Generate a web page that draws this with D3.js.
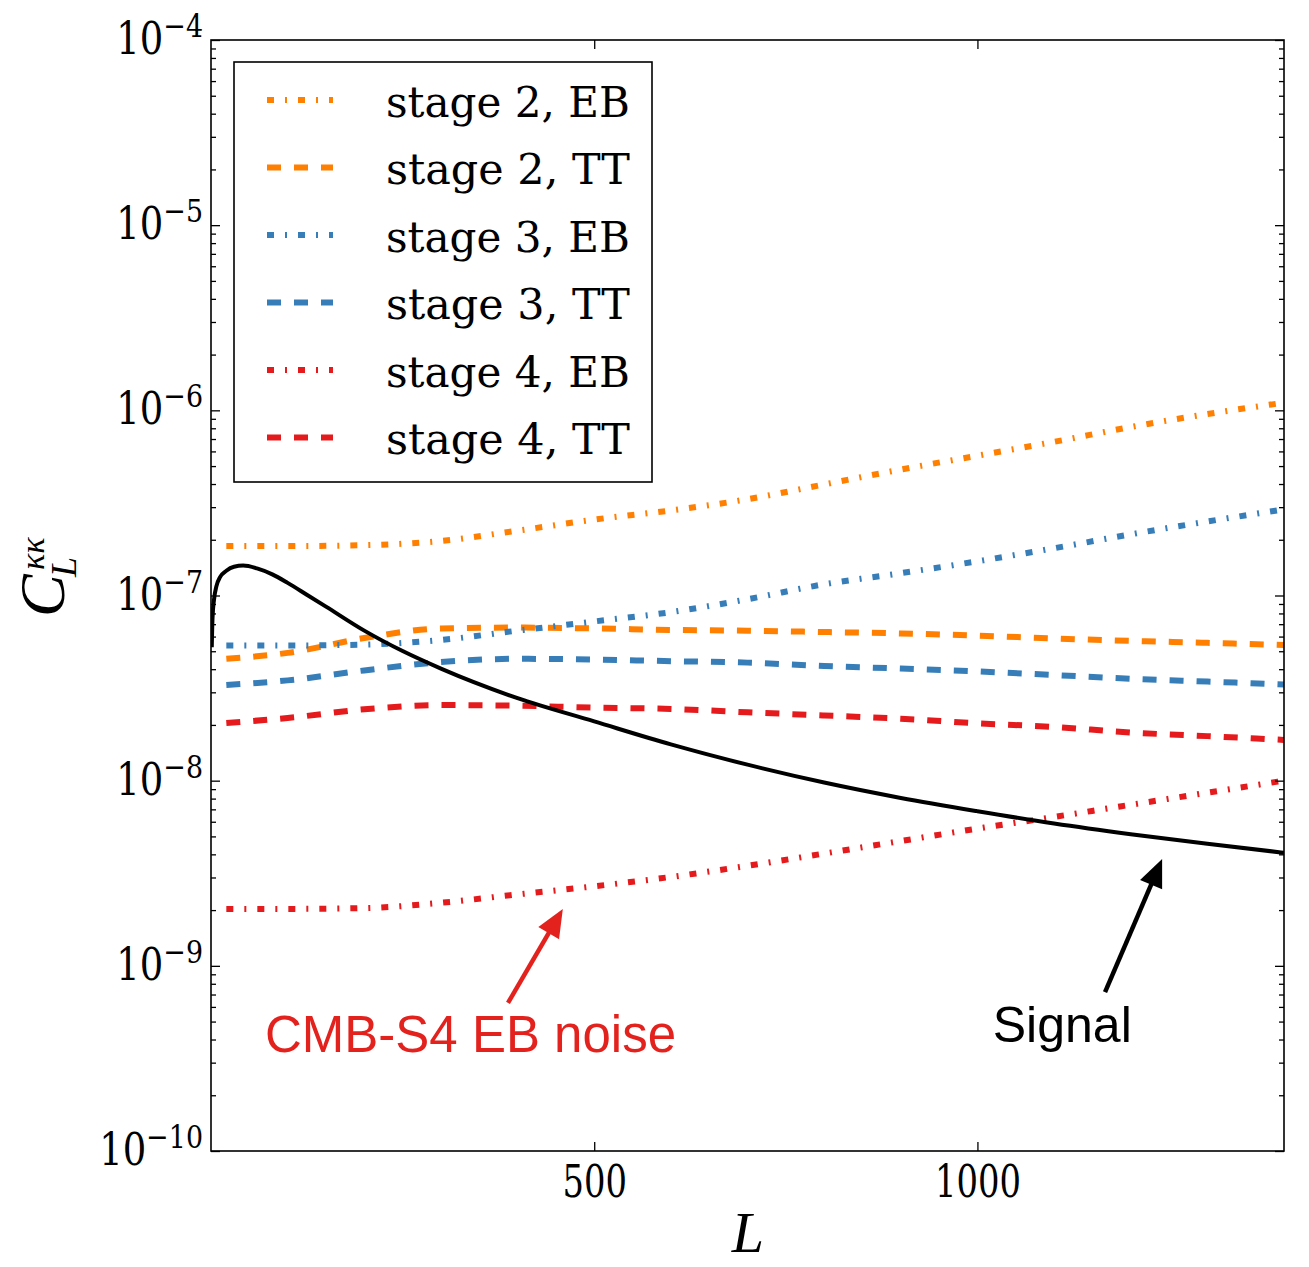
<!DOCTYPE html>
<html>
<head>
<meta charset="utf-8">
<script src="https://cdn.jsdelivr.net/npm/d3@7"></script>
<style>
  body { margin: 0; background: #fff; }
</style>
</head>
<body>
<svg width="1309" height="1267"></svg>
<script>
// ---- data ----
const noiseL = [20, 100, 200, 300, 400, 500, 600, 700, 800, 900, 1000, 1100, 1200, 1300, 1400];
const stage2EB = [1.85e-7, 1.85e-7, 1.87e-7, 1.97e-7, 2.24e-7, 2.57e-7, 2.88e-7, 3.31e-7, 3.98e-7, 4.79e-7, 5.69e-7, 6.76e-7, 8.13e-7, 9.55e-7, 1.10e-6];
const stage2TT = [4.55e-8, 4.90e-8, 5.89e-8, 6.64e-8, 6.71e-8, 6.64e-8, 6.52e-8, 6.46e-8, 6.35e-8, 6.24e-8, 6.07e-8, 5.86e-8, 5.69e-8, 5.55e-8, 5.40e-8];
const stage3EB = [5.37e-8, 5.37e-8, 5.43e-8, 5.75e-8, 6.46e-8, 7.24e-8, 8.13e-8, 9.55e-8, 1.15e-7, 1.32e-7, 1.53e-7, 1.80e-7, 2.14e-7, 2.51e-7, 2.92e-7];
const stage3TT = [3.29e-8, 3.48e-8, 3.94e-8, 4.37e-8, 4.55e-8, 4.51e-8, 4.42e-8, 4.34e-8, 4.16e-8, 4.03e-8, 3.89e-8, 3.72e-8, 3.55e-8, 3.43e-8, 3.31e-8];
const stage4EB = [2.03e-9, 2.03e-9, 2.05e-9, 2.19e-9, 2.43e-9, 2.69e-9, 3.02e-9, 3.47e-9, 4.04e-9, 4.72e-9, 5.51e-9, 6.37e-9, 7.41e-9, 8.61e-9, 1.0e-8];
const stage4TT = [2.05e-8, 2.18e-8, 2.43e-8, 2.56e-8, 2.54e-8, 2.48e-8, 2.44e-8, 2.34e-8, 2.25e-8, 2.16e-8, 2.04e-8, 1.95e-8, 1.82e-8, 1.74e-8, 1.66e-8];

const signalL = [1, 2, 4, 7, 12, 20, 30, 42, 60, 80, 100, 125, 150, 200, 250, 300, 400, 500, 600, 700, 800, 900, 1000, 1100, 1200, 1300, 1400];
const signal = [5.25e-8, 7.59e-8, 9.55e-8, 1.12e-7, 1.26e-7, 1.36e-7, 1.43e-7, 1.45e-7, 1.40e-7, 1.30e-7, 1.17e-7, 1.01e-7, 8.71e-8, 6.46e-8, 5.01e-8, 4.03e-8, 2.79e-8, 2.09e-8, 1.57e-8, 1.22e-8, 9.77e-9, 8.07e-9, 6.84e-9, 5.87e-9, 5.14e-9, 4.56e-9, 4.08e-9];

const legendLabels = ['stage 2, EB', 'stage 2, TT', 'stage 3, EB', 'stage 3, TT', 'stage 4, EB', 'stage 4, TT'];
const xTicks = [500, 1000];
const yDecades = [-10, -9, -8, -7, -6, -5, -4];

// ---- styles ----
const orange = '#ff7f00', blue = '#377eb8', red = '#e41a1c';
const dashDot = '7,11,2,11';
const dashed = '14,13';

const series = [
  { name: legendLabels[0], vals: stage2EB, color: orange, dash: dashDot },
  { name: legendLabels[1], vals: stage2TT, color: orange, dash: dashed },
  { name: legendLabels[2], vals: stage3EB, color: blue, dash: dashDot },
  { name: legendLabels[3], vals: stage3TT, color: blue, dash: dashed },
  { name: legendLabels[4], vals: stage4EB, color: red, dash: dashDot },
  { name: legendLabels[5], vals: stage4TT, color: red, dash: dashed }
];

const svg = d3.select('svg');
const pLeft = 211, pRight = 1284, pTop = 40, pBottom = 1151;
const serif = '"DejaVu Serif", "Liberation Serif", serif';
const serifIt = '"Liberation Serif", "DejaVu Serif", serif';
const sans = '"Liberation Sans", Arial, Helvetica, sans-serif';

const x = d3.scaleLinear().domain([0, 1400]).range([pLeft, pRight]);
const y = d3.scaleLog().domain([1e-10, 1e-4]).range([pBottom, pTop]);

svg.append('defs').append('clipPath').attr('id', 'plotclip')
  .append('rect').attr('x', pLeft).attr('y', pTop).attr('width', pRight - pLeft).attr('height', pBottom - pTop);

const line = d3.line()
  .x(d => x(d[0]))
  .y(d => y(d[1]))
  .curve(d3.curveMonotoneX);

const plot = svg.append('g').attr('clip-path', 'url(#plotclip)');

plot.selectAll('path.noise')
  .data(series)
  .enter().append('path')
    .attr('class', 'noise')
    .attr('d', s => line(noiseL.map((l, i) => [l, s.vals[i]])))
    .attr('fill', 'none')
    .attr('stroke', s => s.color)
    .attr('stroke-width', 6)
    .attr('stroke-dasharray', s => s.dash);

plot.append('path')
  .attr('d', line(signalL.map((l, i) => [l, signal[i]])))
  .attr('fill', 'none')
  .attr('stroke', '#000')
  .attr('stroke-width', 4);

// ---- ticks ----
const majorY = yDecades.map(k => Math.pow(10, k));
const minorY = [];
yDecades.slice(0, -1).forEach(k => {
  for (let m = 2; m <= 9; m++) minorY.push(m * Math.pow(10, k));
});

function tickAxis(axis, tx, ty) {
  const g = svg.append('g').attr('transform', `translate(${tx},${ty})`).call(axis);
  g.select('.domain').remove();
  g.selectAll('line').attr('stroke', '#000').attr('stroke-width', 1.3);
  return g;
}

tickAxis(d3.axisLeft(y).tickValues(majorY).tickSize(-9).tickFormat(''), pLeft, 0);
tickAxis(d3.axisLeft(y).tickValues(minorY).tickSize(-5).tickFormat(''), pLeft, 0);
tickAxis(d3.axisRight(y).tickValues(majorY).tickSize(-9).tickFormat(''), pRight, 0);
tickAxis(d3.axisRight(y).tickValues(minorY).tickSize(-5).tickFormat(''), pRight, 0);
tickAxis(d3.axisTop(x).tickValues(xTicks).tickSize(-9).tickFormat(''), 0, pTop);

const xAxis = tickAxis(d3.axisBottom(x).tickValues(xTicks).tickSize(-9).tickPadding(15).tickFormat(d3.format('d')), 0, pBottom);
xAxis.selectAll('text')
  .attr('font-family', serif)
  .attr('font-size', 44)
  .attr('fill', '#000')
  .attr('textLength', d => String(d).length * 21.5)
  .attr('lengthAdjust', 'spacingAndGlyphs');

// y tick labels: "10" with a raised exponent, squeezed horizontally
const yLab = svg.append('g').attr('font-family', serif);
yLab.selectAll('text')
  .data(yDecades)
  .enter().append('text')
    .attr('transform', k => `translate(203,${y(Math.pow(10, k)) + 14}) scale(0.84,1)`)
    .attr('text-anchor', 'end')
    .attr('font-size', 44)
    .each(function (k) {
      const t = d3.select(this);
      t.append('tspan').text('10');
      t.append('tspan').attr('dy', -17).attr('font-size', 32).text('\u2212' + Math.abs(k));
    });

// frame
svg.append('rect')
  .attr('x', pLeft).attr('y', pTop)
  .attr('width', pRight - pLeft).attr('height', pBottom - pTop)
  .attr('fill', 'none').attr('stroke', '#000').attr('stroke-width', 1.6);

// axis titles
svg.append('text')
  .attr('x', 748).attr('y', 1252)
  .attr('text-anchor', 'middle')
  .attr('font-family', serifIt).attr('font-style', 'italic').attr('font-size', 58)
  .text('L');

const yt = svg.append('g').attr('transform', 'translate(64,617) rotate(-90)')
  .attr('font-family', serifIt).attr('font-style', 'italic');
yt.append('text').attr('x', 0).attr('y', 0).attr('font-size', 64).text('C');
yt.append('text').attr('x', 47).attr('y', -20).attr('font-size', 34).text('\u03ba\u03ba');
yt.append('text').attr('x', 40).attr('y', 12).attr('font-size', 36).text('L');

// ---- legend ----
const legend = svg.append('g');
legend.append('rect')
  .attr('x', 234).attr('y', 62).attr('width', 418).attr('height', 420)
  .attr('fill', '#fff').attr('stroke', '#000').attr('stroke-width', 1.6);

const rows = legend.selectAll('g.row')
  .data(series)
  .enter().append('g')
    .attr('class', 'row')
    .attr('transform', (d, i) => `translate(0,${100 + i * 67.5})`);

rows.append('line')
  .attr('x1', 267).attr('x2', 333).attr('y1', 0).attr('y2', 0)
  .attr('stroke', d => d.color)
  .attr('stroke-width', 6)
  .attr('stroke-dasharray', d => d.dash);

rows.append('text')
  .attr('x', 386).attr('y', 16.5)
  .attr('font-family', serif)
  .attr('font-size', 43)
  .attr('textLength', 244).attr('lengthAdjust', 'spacingAndGlyphs')
  .text(d => d.name);

// ---- annotations ----
function arrow(from, to, color) {
  const x0 = x(from[0]), y0 = y(from[1]), x1 = x(to[0]), y1 = y(to[1]);
  const dx = x1 - x0, dy = y1 - y0, len = Math.hypot(dx, dy);
  const ux = dx / len, uy = dy / len;
  const hl = 28, hw = 12;
  const bx = x1 - ux * hl, by = y1 - uy * hl;
  svg.append('line')
    .attr('x1', x0).attr('y1', y0).attr('x2', bx + ux * 2).attr('y2', by + uy * 2)
    .attr('stroke', color).attr('stroke-width', 4.5);
  svg.append('polygon')
    .attr('points', [[x1, y1], [bx - uy * hw, by + ux * hw], [bx + uy * hw, by - ux * hw]].map(p => p.join(',')).join(' '))
    .attr('fill', color);
}

arrow([387.5, 6.3e-10], [459, 2.03e-9], '#e3221e');
arrow([1166.5, 7.22e-10], [1241, 3.78e-9], '#000');

svg.append('text')
  .attr('x', x(70.5)).attr('y', y(3.43e-10))
  .attr('font-family', sans).attr('font-size', 51)
  .attr('fill', '#e3221e')
  .text('CMB-S4 EB noise');

svg.append('text')
  .attr('x', x(1020)).attr('y', y(3.88e-10))
  .attr('font-family', sans).attr('font-size', 50)
  .attr('fill', '#000')
  .text('Signal');
</script>
</body>
</html>
